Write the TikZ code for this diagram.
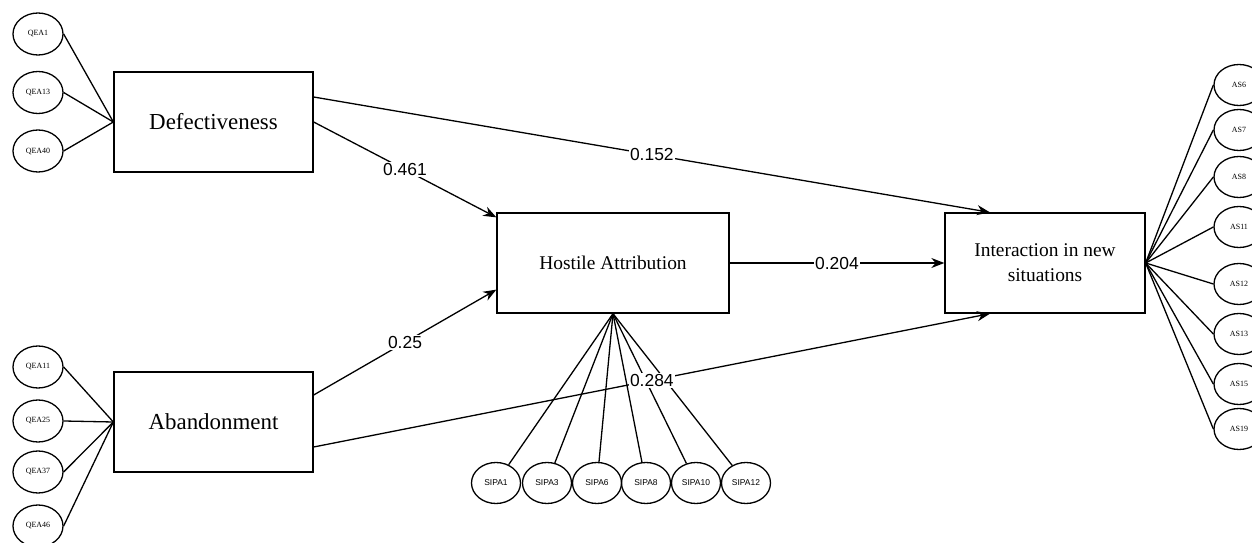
\documentclass[tikz,border=0pt]{standalone}
\usepackage{fontspec}
\setmainfont{Liberation Serif}
\newfontfamily\arialf{Liberation Sans}
\usetikzlibrary{arrows.meta,shapes.geometric}
\begin{document}
\begin{tikzpicture}[x=1bp,y=-1bp,line width=1.3bp,
  box/.style={draw,rectangle,inner sep=0pt,align=center,minimum height=100bp},
  qea/.style={draw,ellipse,inner sep=0pt,minimum width=50bp,minimum height=42bp,font=\fontsize{8}{9}\selectfont},
  sipa/.style={draw,ellipse,inner sep=0pt,minimum width=49bp,minimum height=41bp,font=\arialf\fontsize{8.5}{9}\selectfont},
  asn/.style={draw,ellipse,inner sep=0pt,minimum width=50bp,minimum height=41bp,font=\fontsize{8}{9}\selectfont},
  arr/.style={-{Stealth[length=13bp,width=10bp]}},
  lab/.style={fill=white,inner sep=1.5bp,font=\arialf\fontsize{17.5}{20}\selectfont}]
\useasboundingbox (0,0) rectangle (1252,543);

% main boxes
\node[box,minimum width=199bp,font=\fontsize{23}{26}\selectfont] (def) at (213.5,122) {Defectiveness};
\node[box,minimum width=199bp,font=\fontsize{23}{26}\selectfont] (aband) at (213.5,422) {Abandonment};
\node[box,minimum width=232bp,font=\fontsize{19.5}{22}\selectfont] (host) at (613,263) {Hostile Attribution};
\node[box,minimum width=200bp,font=\fontsize{19.5}{25}\selectfont] (int) at (1045,263) {Interaction in new\\situations};

% QEA indicators
\node[qea] (q1) at (38,34) {QEA1};
\node[qea] (q13) at (38,92.5) {QEA13};
\node[qea] (q40) at (38,151) {QEA40};
\node[qea] (q11) at (38,367) {QEA11};
\node[qea] (q25) at (38,421) {QEA25};
\node[qea] (q37) at (38,472) {QEA37};
\node[qea] (q46) at (38,526) {QEA46};

% SIPA indicators
\node[sipa] (s1) at (496,483) {SIPA1};
\node[sipa] (s3) at (547,483) {SIPA3};
\node[sipa] (s6) at (597,483) {SIPA6};
\node[sipa] (s8) at (646,483) {SIPA8};
\node[sipa] (s10) at (696,483) {SIPA10};
\node[sipa] (s12) at (746,483) {SIPA12};

% AS indicators
\node[asn] (a6) at (1239,85) {AS6};
\node[asn] (a7) at (1239,130) {AS7};
\node[asn] (a8) at (1239,177) {AS8};
\node[asn] (a11) at (1239,227) {AS11};
\node[asn] (a12) at (1239,284) {AS12};
\node[asn] (a13) at (1239,334) {AS13};
\node[asn] (a15) at (1239,384) {AS15};
\node[asn] (a19) at (1239,429) {AS19};

% measurement lines
\foreach \q in {q1,q13,q40} \draw (\q.east) -- (def.west);
\foreach \q in {q11,q25,q37,q46} \draw (\q.east) -- (aband.west);
\foreach \s in {s1,s3,s6,s8,s10,s12} \draw (host.south) -- (\s);
\foreach \a in {a6,a7,a8,a11,a12,a13,a15,a19} \draw (int.east) -- (\a.west);

% structural paths
\draw[arr] ([yshift=25bp]def.east) -- ([xshift=-55bp]int.north) node[lab,pos=0.5] {0.152};
\draw[arr] (def.east) -- ([yshift=-5bp]host.north west) node[lab,pos=0.5] {0.461};
\draw[arr] ([yshift=27bp]aband.east) -- ([yshift=24bp]host.south west) node[lab,pos=0.5] {0.25};
\draw[arr] ([yshift=-25bp]aband.east) -- ([xshift=-55bp]int.south) node[lab,pos=0.5] {0.284};
\draw[arr] (host.east) -- (int.west) node[lab,pos=0.5] {0.204};
\end{tikzpicture}
\end{document}
